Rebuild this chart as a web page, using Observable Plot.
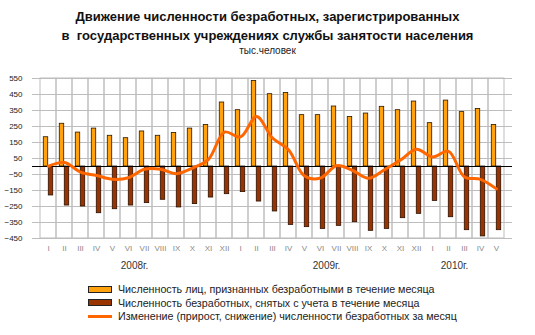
<!DOCTYPE html>
<html><head><meta charset="utf-8">
<script src="https://cdn.jsdelivr.net/npm/d3@7"></script>
<script src="https://cdn.jsdelivr.net/npm/@observablehq/plot@0.6"></script>
<style>
body{margin:0;background:#fff;font-family:Arial,"Liberation Sans",sans-serif;}
#wrap{position:relative;width:535px;height:335px;overflow:hidden}
#title{position:absolute;top:8px;left:0;width:535px;text-align:center;font-weight:bold;font-size:13px;line-height:18.5px;color:#111}
#sub{position:absolute;top:45px;left:0;width:535px;text-align:center;font-size:10px;line-height:12px;color:#222}
#chart{position:absolute;top:60px;left:0}
#legend{position:absolute;left:88px;top:282.5px;font-size:10.7px;color:#222}
.row{display:flex;align-items:center;height:13.5px;white-space:nowrap}
.sw{width:22px;height:5px;border:1px solid #222;margin-right:6px}
.ln{width:24px;height:3px;background:#FF6600;margin-right:6px}
</style></head>
<body>
<div id="wrap">
  <div id="title">Движение численности безработных, зарегистрированных<br>в&nbsp; государственных учреждениях службы занятости населения</div>
  <div id="sub">тыс.человек</div>
  <div id="chart"></div>
  <div id="legend">
    <div class="row"><div class="sw" style="background:#FFA20D"></div>Численность лиц, признанных безработными в течение месяца</div>
    <div class="row"><div class="sw" style="background:#993300"></div>Численность безработных, снятых с учета в течение месяца</div>
    <div class="row"><div class="ln"></div>Изменение (прирост, снижение) численности безработных за месяц</div>
  </div>
</div>
<script>
const months = ["I","II","III","IV","V","VI","VII","VIII","IX","X","XI","XII",
                "I","II","III","IV","V","VI","VII","VIII","IX","X","XI","XII",
                "I","II","III","IV","V"];
const registered = [183,267,212,237,192,177,219,192,210,237,260,400,
                    352,535,452,460,321,321,375,310,331,373,352,406,
                    271,412,340,360,260];
const removed = [-181,-244,-250,-292,-267,-244,-229,-208,-256,-235,-194,-173,
                 -160,-219,-281,-365,-379,-390,-371,-348,-402,-390,-323,-296,
                 -215,-317,-398,-437,-398];
const change = [2,25,-35,-56,-80,-70,-17,-17,-45,-10,45,215,
                185,312,178,105,-60,-72,5,-25,-73,-20,40,108,
                60,95,-65,-80,-140];
const yTicks = [550,450,350,250,150,50,-50,-150,-250,-350,-450];
const yearLabels = ["2008г.","2009г.","2010г."];
const yearAnchor = [5,17,25];

const data = months.map((m,i)=>({i, m, reg: registered[i], rem: removed[i], chg: change[i]}));
const years = yearLabels.map((t,k)=>({t, i: yearAnchor[k]}));

const W = 535, H = 220, mL = 32, mR = 23;
const bw = (W - mL - mR) / months.length;
const barW = 5;

const chart = Plot.plot({
  width: W, height: H,
  marginTop: 18, marginBottom: 42, marginLeft: mL, marginRight: mR,
  style: {fontFamily: "Arial, 'Liberation Sans', sans-serif", fontSize: "8px", background: "transparent", color: "#222"},
  x: {type: "band", domain: d3.range(months.length), padding: 0, label: null,
      tickFormat: i => months[i], tickSize: 0, tickPadding: 7},
  y: {domain: [-450, 550], ticks: yTicks, tickSize: 0, tickPadding: 10, label: null},
  marks: [
    Plot.ruleY(yTicks, {stroke: "#bdbdbd"}),
    Plot.cell(data, {x: "i", fill: "none", stroke: "#bdbdbd"}),
    Plot.barY(data, {x: "i", y: "reg", fill: "#FFA20D", stroke: "#2a1800", strokeWidth: 0.8,
                     insetLeft: bw/2 - barW, insetRight: bw/2}),
    Plot.barY(data, {x: "i", y: "rem", fill: "#993300", stroke: "#2a1000", strokeWidth: 0.8,
                     insetLeft: bw/2, insetRight: bw/2 - barW}),
    Plot.ruleY([0], {stroke: "#000"}),
    Plot.line(data, {x: "i", y: "chg", stroke: "#FF6600", strokeWidth: 3, curve: "catmull-rom"}),
    Plot.text(years, {x: "i", text: "t", frameAnchor: "bottom", dy: 30, dx: 6, fontSize: 10, fill: "#333"})
  ]
});
document.getElementById("chart").appendChild(chart);
// x tick labels grey
chart.querySelectorAll("g[aria-label='x-axis'] text, g[aria-label='x-axis tick label'] text").forEach(t => t.setAttribute("fill", "#8a8a8a"));
</script>
</body></html>
